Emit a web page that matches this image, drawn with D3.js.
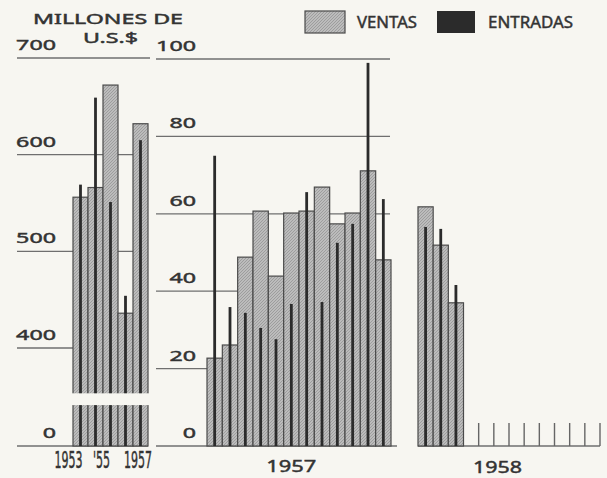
<!DOCTYPE html>
<html>
<head>
<meta charset="utf-8">
<script src="https://cdn.jsdelivr.net/npm/d3@7"></script>
<style>
  body { margin: 0; background: #f7f6f1; }
  svg { display: block; }
  text { font-family: "Noto Sans", "DejaVu Sans", sans-serif; font-weight: 400; fill: #333; stroke: #333; stroke-width: 0.45px; }
  text.yr { font-family: "DejaVu Sans", sans-serif; stroke-width: 0.5px; }
</style>
</head>
<body>
<svg id="chart" width="607" height="478"></svg>
<script>
// annual totals, millions of US$ (broken axis 0..400)
const years = ["1953", "1954", "1955", "1956", "1957"];
const ventasAnual = [556, 566, 672, 436, 632];
const entradasAnual = [569, 659, 551, 454, 615];

// monthly, 1957 and 1958
const meses = ["ene", "feb", "mar", "abr", "may", "jun", "jul", "ago", "sep", "oct", "nov", "dic"];
const ventas1957 = [22.7, 26.1, 48.8, 60.7, 43.9, 60.2, 60.7, 66.9, 57.4, 60.2, 71.1, 48.1];
const entradas1957 = [75, 35.9, 34.4, 30.5, 27.6, 36.7, 65.6, 37.2, 52.5, 57.4, 99, 63.8];
const ventas1958 = [61.8, 51.9, 37];
const entradas1958 = [56.6, 56.1, 41.6];

const ticksAnual = [0, 400, 500, 600, 700];
const ticksMes = [0, 20, 40, 60, 80, 100];
const yearLabels = ["1953", "'55", "1957"];

const svg = d3.select("#chart");

// hatch for VENTAS
const defs = svg.append("defs");
const pat = defs.append("pattern")
  .attr("id", "hatch")
  .attr("patternUnits", "userSpaceOnUse")
  .attr("width", 3).attr("height", 3);
pat.append("rect").attr("width", 3).attr("height", 3).attr("fill", "#bcbcbc");
pat.append("path").attr("d", "M0,3 L3,0").attr("stroke", "#959595").attr("stroke-width", 0.8);

// scales
const xL = d3.scaleBand().domain(years).range([73, 148]);
const yL = d3.scaleLinear().domain([0, 400, 700]).range([446, 348, 58]);
const xM = d3.scaleBand().domain(meses).range([207, 391]);
const xR = d3.scaleBand().domain(meses).range([418, 600]);
const yM = d3.scaleLinear().domain([0, 100]).range([446, 59]);

// gridlines
svg.append("g").selectAll("line")
  .data(ticksAnual)
  .join("line")
  .attr("x1", 17).attr("x2", d => d === 700 ? 150 : 148)
  .attr("y1", d => yL(d)).attr("y2", d => yL(d))
  .attr("stroke", "#6f6f6f").attr("stroke-width", 1.3);

svg.append("g").selectAll("line")
  .data(ticksMes)
  .join("line")
  .attr("x1", 156).attr("x2", d => d === 0 ? 397 : 390)
  .attr("y1", d => yM(d)).attr("y2", d => yM(d))
  .attr("stroke", "#6f6f6f").attr("stroke-width", 1.3);

// 1958 baseline and empty month ticks
svg.append("line")
  .attr("x1", xR.range()[0]).attr("x2", xR.range()[1])
  .attr("y1", yM(0)).attr("y2", yM(0))
  .attr("stroke", "#6f6f6f").attr("stroke-width", 1.3);
svg.append("g").selectAll("line")
  .data(meses.slice(ventas1958.length))
  .join("line")
  .attr("x1", d => xR(d) + xR.bandwidth()).attr("x2", d => xR(d) + xR.bandwidth())
  .attr("y1", yM(0)).attr("y2", yM(0) - 23)
  .attr("stroke", "#666").attr("stroke-width", 1.4);

function drawBars(x, y, keys, ventas, entradas) {
  const g = svg.append("g");
  g.selectAll("rect.v")
    .data(ventas)
    .join("rect")
    .attr("class", "v")
    .attr("x", (d, i) => x(keys[i]))
    .attr("width", x.bandwidth())
    .attr("y", d => y(d))
    .attr("height", d => y(0) - y(d))
    .attr("fill", "url(#hatch)")
    .attr("stroke", "#4a4a4a").attr("stroke-width", 1.2);
  g.selectAll("rect.e")
    .data(entradas)
    .join("rect")
    .attr("class", "e")
    .attr("x", (d, i) => x(keys[i]) + x.bandwidth() / 2 - 1.4)
    .attr("width", 2.8)
    .attr("y", d => y(d))
    .attr("height", d => y(0) - y(d))
    .attr("fill", "#2b2b2b");
}

drawBars(xL, yL, years, ventasAnual, entradasAnual);
drawBars(xM, yM, meses, ventas1957, entradas1957);
drawBars(xR, yM, meses, ventas1958, entradas1958);

// axis break on the annual bars
svg.append("rect")
  .attr("x", xL.range()[0] - 2).attr("width", xL.range()[1] - xL.range()[0] + 4)
  .attr("y", yL(215)).attr("height", yL(167) - yL(215))
  .attr("fill", "#f7f6f1");

// tick labels
svg.append("g").selectAll("text")
  .data(ticksAnual)
  .join("text")
  .attr("x", 56).attr("y", d => yL(d) - 8)
  .attr("text-anchor", "end")
  .attr("font-size", 15)
  .attr("textLength", d => String(d).length * 13.3)
  .attr("lengthAdjust", "spacingAndGlyphs")
  .text(d => d);

svg.append("g").selectAll("text")
  .data(ticksMes)
  .join("text")
  .attr("x", 196).attr("y", d => yM(d) - 8)
  .attr("text-anchor", "end")
  .attr("font-size", 15)
  .attr("textLength", d => String(d).length * 13.3)
  .attr("lengthAdjust", "spacingAndGlyphs")
  .text(d => d);

// unit title
svg.append("text").attr("x", 33).attr("y", 24).attr("font-size", 14.5)
  .attr("textLength", 150).attr("lengthAdjust", "spacingAndGlyphs")
  .text("MILLONES DE");
svg.append("text").attr("x", 83).attr("y", 43).attr("font-size", 14.5)
  .attr("textLength", 55).attr("lengthAdjust", "spacingAndGlyphs")
  .text("U.S.$");

// legend
svg.append("rect").attr("x", 305).attr("y", 11).attr("width", 40).attr("height", 22)
  .attr("fill", "url(#hatch)").attr("stroke", "#4a4a4a").attr("stroke-width", 1.2);
svg.append("text").attr("x", 357).attr("y", 28).attr("font-size", 16)
  .attr("textLength", 60).attr("lengthAdjust", "spacingAndGlyphs")
  .text("VENTAS");
svg.append("rect").attr("x", 437).attr("y", 11).attr("width", 38).attr("height", 22)
  .attr("fill", "#2b2b2b");
svg.append("text").attr("x", 488).attr("y", 28).attr("font-size", 16)
  .attr("textLength", 85).attr("lengthAdjust", "spacingAndGlyphs")
  .text("ENTRADAS");

// period labels (tall, condensed)
const bw = xL.bandwidth();
const yearPos = [xL("1953") - 4.5, xL("1955") - 1.5, xL("1957") + bw - 10];
svg.append("g").selectAll("text")
  .data(yearLabels)
  .join("text")
  .attr("class", "yr")
  .attr("transform", (d, i) => `translate(${yearPos[i]},468) scale(0.48,1)`)
  .attr("text-anchor", "middle")
  .attr("font-size", 23)
  .text(d => d);

svg.append("text")
  .attr("x", xM("jun") + xM.bandwidth() / 2).attr("y", 472)
  .attr("text-anchor", "middle").attr("font-size", 16)
  .attr("textLength", 50).attr("lengthAdjust", "spacingAndGlyphs")
  .text("1957");
svg.append("text")
  .attr("x", xR("jun") + xR.bandwidth() / 2 - 4).attr("y", 473)
  .attr("text-anchor", "middle").attr("font-size", 16)
  .attr("textLength", 49).attr("lengthAdjust", "spacingAndGlyphs")
  .text("1958");
</script>
</body>
</html>
